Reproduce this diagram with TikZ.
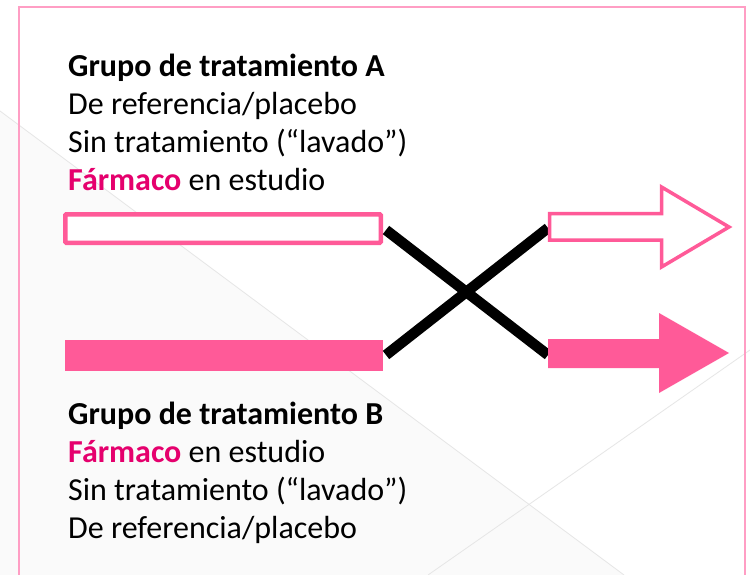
\documentclass[tikz,border=0pt]{standalone}
\usepackage{fontspec}
\setmainfont{Carlito}
\usepackage{tikz}
\definecolor{rosa}{HTML}{FF5A98}
\definecolor{rosafuerte}{HTML}{E5006D}
\definecolor{marco}{HTML}{FF9EC4}
\definecolor{fondo}{HTML}{FAFAFA}
\definecolor{diagonal}{HTML}{E6E6E6}
\tikzset{
  texto/.style={anchor=base west, inner sep=0pt, font=\fontsize{32bp}{38bp}\selectfont},
  cruce/.style={line width=10.5bp, color=black, line cap=butt},
  contorno/.style={line width=4.5bp, draw=rosa, fill=white, rounded corners=1bp},
  lleno/.style={fill=rosa, draw=none}
}
\newcommand{\farmaco}{\textbf{\textcolor{rosafuerte}{Fármaco}}}

\begin{document}
\begin{tikzpicture}[x=1bp, y=-1bp]
			%%%%% START %%%%%
			\useasboundingbox (0, 0) rectangle (750, 575);
			
			\fill[white] (0, 0) rectangle (750, 575);
			\fill[fondo] (0, 111) -- (624, 575) -- (0, 575) -- cycle;
			\draw[line width=0.8bp, color=diagonal] (0, 111) -- (624, 575);
			\draw[line width=0.8bp, color=diagonal] (750, 350) -- (428, 575);
			
			\draw[line width=1.6bp, color=marco] (19, 576) -- (19, 7) -- (745, 7) -- (745, 576);
			
			\node[texto] (grupoA) at (68, 77) {\textbf{Grupo de tratamiento A}};
			\node[texto] (refA) at (68, 115) {De referencia/placebo};
			\node[texto] (lavadoA) at (68, 153) {Sin tratamiento (“lavado”)};
			\node[texto] (farmacoA) at (68, 191) {\farmaco{} en estudio};
			
			\draw[contorno] (65.25, 214.25) rectangle (380.75, 242.75);
			\draw[lleno] (65, 340) rectangle (383, 371);
			
			\coordinate (finA) at (386, 230);
			\coordinate (finB) at (386, 355);
			\coordinate (inicioA) at (548, 228);
			\coordinate (inicioB) at (548, 355);
			
			\draw[cruce] (finA) -- (inicioB);
			\draw[cruce] (finB) -- (inicioA);
			
			\draw[line width=3.5bp, draw=rosa, fill=white] (549.5, 213.5) -- (661.5, 213.5) -- (661.5, 187) -- (729, 227) -- (661.5, 267) -- (661.5, 240) -- (549.5, 240) -- cycle;
			\fill[rosa] (548, 339) -- (659, 339) -- (659, 313) -- (729, 353) -- (659, 393) -- (659, 368) -- (548, 368) -- cycle;
			
			\node[texto] (grupoB) at (68, 424) {\textbf{Grupo de tratamiento B}};
			\node[texto] (farmacoB) at (68, 462) {\farmaco{} en estudio};
			\node[texto] (lavadoB) at (68, 500) {Sin tratamiento (“lavado”)};
			\node[texto] (refB) at (68, 538) {De referencia/placebo};
			
			%%%%% END %%%%%
\end{tikzpicture}
\end{document}
